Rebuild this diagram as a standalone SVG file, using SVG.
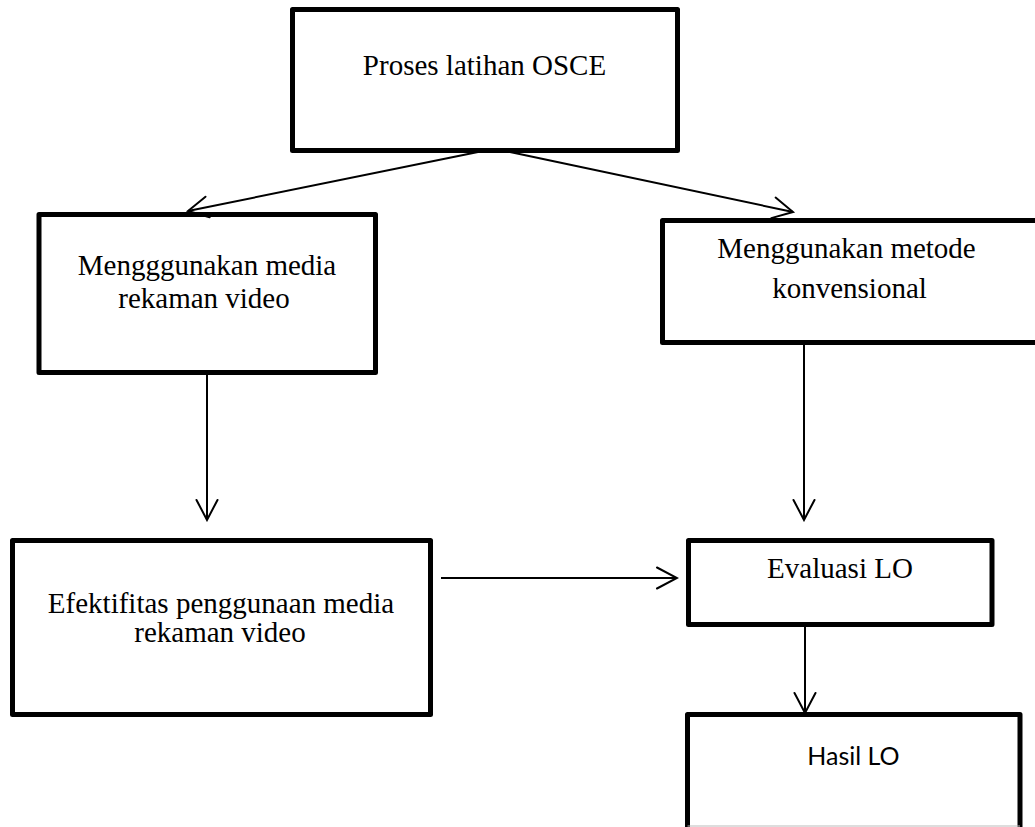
<svg xmlns="http://www.w3.org/2000/svg" width="1035" height="827" viewBox="0 0 1035 827">
<style>
.box{fill:#fff;stroke:#000;stroke-width:5;stroke-linejoin:round}
.t{font-family:"Liberation Serif","Times New Roman",serif;font-size:29px;fill:#000;text-anchor:middle}
.c{font-family:Lato,"Liberation Sans",sans-serif;font-size:25px;fill:#000;text-anchor:middle}
.conn line{stroke:#000;stroke-width:2;marker-end:url(#ah)}
</style>
<defs>
<marker id="ah" markerUnits="userSpaceOnUse" viewBox="-22 -12 24 24" markerWidth="24" markerHeight="24" refX="0" refY="0" orient="auto">
<path d="M-20,-10.5 L0,0 L-20,10.5" fill="none" stroke="#000" stroke-width="2" stroke-linecap="round" stroke-linejoin="miter"/>
</marker>
</defs>
<rect width="1035" height="827" fill="#fff"/>
<g id="n-proses">
<rect class="box" x="292.5" y="9.5" width="385" height="141"/>
<text class="t" x="484.5" y="75">Proses latihan OSCE</text>
</g>
<g id="n-video">
<rect class="box" x="39" y="214.5" width="336.5" height="158"/>
<text class="t" x="207" y="275">Mengggunakan media</text>
<text class="t" x="204" y="308">rekaman video</text>
</g>
<g id="n-konvensional">
<rect class="box" x="662.5" y="220.5" width="380" height="122"/>
<text class="t" x="846.5" y="258">Menggunakan metode</text>
<text class="t" x="849.5" y="298">konvensional</text>
</g>
<g id="n-efektifitas">
<rect class="box" x="12.5" y="540.5" width="418" height="174"/>
<text class="t" x="221" y="613">Efektifitas penggunaan media</text>
<text class="t" x="220" y="642">rekaman video</text>
</g>
<g id="n-evaluasi">
<rect class="box" x="688.5" y="540.5" width="303.5" height="84"/>
<text class="t" x="840" y="578">Evaluasi LO</text>
</g>
<g id="n-hasil">
<path d="M687.5,830 L687.5,714.5 L1020,714.5 L1020,830" fill="#fff" stroke="#000" stroke-width="5" stroke-linejoin="round"/>
<line x1="687.5" y1="826" x2="1020" y2="826" stroke="#bbb" stroke-width="1"/>
<text class="c" x="853.5" y="765">Hasil LO</text>
</g>
<g id="connectors" class="conn">
<line x1="478" y1="152" x2="188" y2="211"/>
<line x1="510" y1="152" x2="793" y2="212"/>
<line x1="207" y1="373" x2="207" y2="520"/>
<line x1="804" y1="343" x2="804" y2="520"/>
<line x1="441" y1="578" x2="677" y2="578"/>
<line x1="805" y1="625" x2="805" y2="713"/>
</g>
</svg>
